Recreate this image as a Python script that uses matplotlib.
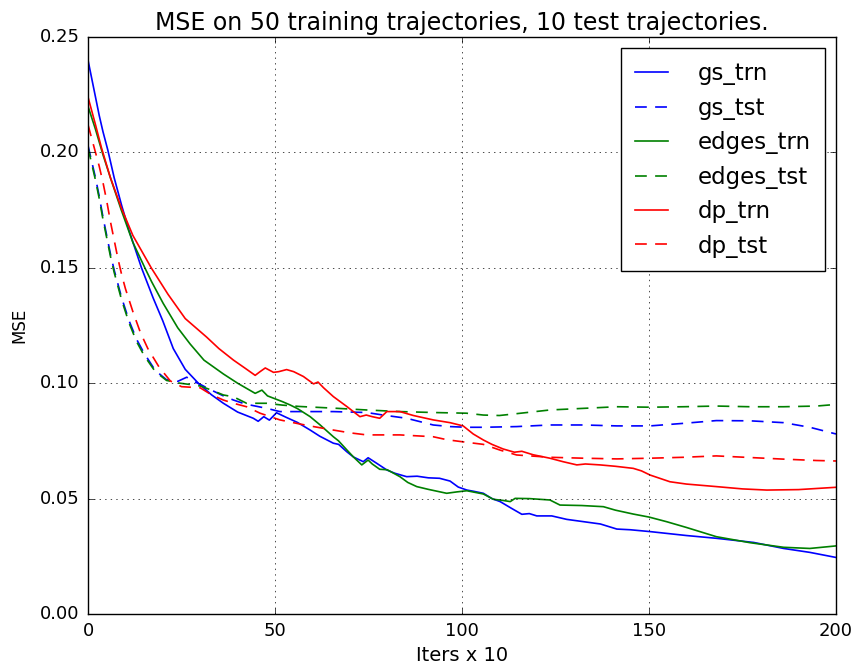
import matplotlib
matplotlib.use("Agg")
import matplotlib.pyplot as plt

# MSE curves, x in units of 10 iterations
gs_trn_x = [0, 1, 2, 3, 4, 5.3, 7, 9, 11, 14.3, 17.4, 20, 22.8, 26, 29.5, 33, 36.2, 40, 44.2, 45.5,
            47, 48.5, 50.4, 53, 56, 59.4, 62, 65.6, 67, 69.2, 71, 73.6, 74.9, 77, 79.9, 82, 85.2,
            88, 91, 94, 96.8, 99, 101.3, 103, 105.7, 108, 110.2, 113, 116, 118, 120, 124, 128,
            132.5, 137, 141.4, 145, 150.3, 160, 168, 178, 186, 193, 200]
gs_trn_y = [0.240, 0.232, 0.224, 0.216, 0.209, 0.201, 0.189, 0.177, 0.166, 0.150, 0.137, 0.127,
            0.1150, 0.106, 0.100, 0.095, 0.0913, 0.0875, 0.0848, 0.0835, 0.0855, 0.084, 0.0872,
            0.0852, 0.083, 0.0797, 0.077, 0.074, 0.0735, 0.0703, 0.068, 0.066, 0.0677, 0.0655,
            0.0624, 0.061, 0.0595, 0.0597, 0.059, 0.0588, 0.0576, 0.055, 0.0537, 0.0532, 0.0523,
            0.050, 0.0487, 0.046, 0.0432, 0.0435, 0.0425, 0.0425, 0.041, 0.040, 0.039, 0.0368,
            0.0365, 0.0357, 0.034, 0.0328, 0.031, 0.0284, 0.0267, 0.0245]

gs_tst_x = [0, 1, 2, 3, 4, 5, 6, 7, 8, 9, 11, 13, 15, 18, 21, 24, 26.4, 28, 30, 33, 36.2, 38.9,
            42, 47.8, 51.3, 56.7, 65.6, 74.5, 78.9, 85.2, 92.3, 96.8, 101.2, 105.7, 114.6, 123.5,
            132.5, 141.4, 150.3, 159.2, 168, 177, 186, 193, 200]
gs_tst_y = [0.203, 0.196, 0.189, 0.181, 0.172, 0.164, 0.156, 0.149, 0.143, 0.137, 0.127, 0.119,
            0.113, 0.1055, 0.1015, 0.1008, 0.1026, 0.101, 0.0995, 0.097, 0.0945, 0.0927, 0.091,
            0.0891, 0.0877, 0.0877, 0.0877, 0.0873, 0.0862, 0.0848, 0.0819, 0.0812, 0.0809,
            0.0809, 0.0812, 0.0819, 0.0819, 0.0815, 0.0815, 0.0826, 0.0838, 0.0837, 0.0829,
            0.0809, 0.078]

edges_trn_x = [0, 2, 4, 6, 8.9, 12, 15.2, 17, 20.1, 24, 27.3, 31, 36.2, 40, 44.7, 46.5, 48, 50.4,
               52, 54, 56, 59.4, 62, 65.6, 67, 69.2, 71, 73.2, 74.9, 76, 78, 80, 83.4, 85.5,
               87.9, 91, 95.9, 98.6, 101.3, 105.7, 108.4, 111, 112.9, 114.2, 118, 123.5, 126.2,
               132, 137.8, 141, 145.8, 150, 154.7, 160, 168, 177, 186, 193, 200]
edges_trn_y = [0.220, 0.210, 0.199, 0.189, 0.175, 0.161, 0.150, 0.144, 0.1346, 0.124, 0.117,
               0.110, 0.104, 0.100, 0.0956, 0.097, 0.0945, 0.0930, 0.092, 0.0906, 0.089, 0.0855,
               0.082, 0.0768, 0.075, 0.0711, 0.068, 0.0646, 0.0667, 0.065, 0.0627, 0.0625,
               0.0595, 0.057, 0.0552, 0.054, 0.0523, 0.0529, 0.0534, 0.052, 0.0497, 0.0492,
               0.0487, 0.0501, 0.050, 0.0494, 0.0472, 0.047, 0.0465, 0.045, 0.0433, 0.042, 0.040,
               0.0375, 0.0335, 0.0309, 0.0289, 0.0284, 0.0295]

edges_tst_x = [0, 1, 2, 3, 4, 5, 6, 7, 8, 9, 11, 13, 15, 18, 21, 24.6, 27, 30, 33, 36.2, 38.9,
               42.4, 47.8, 52, 56.7, 65.6, 74.5, 83.4, 92.3, 101.2, 105.7, 110, 114.6, 123.5,
               132.5, 141.4, 150.3, 159.2, 168, 177, 186, 194.8, 200]
edges_tst_y = [0.202, 0.195, 0.188, 0.180, 0.171, 0.163, 0.155, 0.148, 0.142, 0.136, 0.126,
               0.118, 0.112, 0.105, 0.1012, 0.100, 0.0995, 0.0988, 0.097, 0.0949, 0.0941,
               0.0913, 0.0913, 0.0905, 0.0899, 0.0892, 0.0884, 0.0877, 0.0873, 0.087, 0.0862,
               0.086, 0.0868, 0.0884, 0.0891, 0.0898, 0.0896, 0.0898, 0.0901, 0.0898, 0.0898,
               0.0901, 0.0908]

dp_trn_x = [0, 2, 3.6, 6, 8.9, 12, 16.9, 21.4, 26, 31.7, 35, 38.9, 42, 44.7, 46, 47.4, 49.6, 51,
            53.1, 55, 57.6, 60.3, 61.5, 63, 65.6, 69.2, 72.7, 74.4, 76, 78, 79.9, 83.4, 87, 92.3,
            96.8, 100.3, 103, 105.7, 108, 111, 114, 116, 119, 123.5, 127, 130.7, 133, 136.9,
            141, 145.8, 148, 150.3, 155.6, 160, 168, 175, 181.5, 190, 200]
dp_trn_y = [0.224, 0.212, 0.202, 0.189, 0.176, 0.164, 0.150, 0.1385, 0.128, 0.120, 0.115, 0.110,
            0.1065, 0.1034, 0.105, 0.1066, 0.1047, 0.105, 0.1059, 0.105, 0.1029, 0.0997, 0.1005,
            0.098, 0.0942, 0.0899, 0.0855, 0.0862, 0.0855, 0.0848, 0.0877, 0.0877, 0.086,
            0.0841, 0.0829, 0.0815, 0.078, 0.0754, 0.0735, 0.0715, 0.0701, 0.0705, 0.069,
            0.0675, 0.066, 0.0646, 0.065, 0.0646, 0.064, 0.0631, 0.062, 0.0602, 0.0573, 0.0563,
            0.0552, 0.0542, 0.0537, 0.0539, 0.0549]

dp_tst_x = [0, 1, 2, 3, 4, 5, 6, 7, 8, 9, 10, 12, 14, 16, 19, 22, 25, 30, 33, 36.2, 38.9, 42.4,
            46, 51.3, 56.7, 61, 65.6, 70, 74.5, 83.4, 92.3, 96, 101.2, 105.7, 110.2, 114.6,
            123.5, 132.5, 141.4, 150.3, 159.2, 168, 177, 186, 194.8, 200]
dp_tst_y = [0.212, 0.206, 0.200, 0.194, 0.187, 0.179, 0.170, 0.162, 0.154, 0.147, 0.141, 0.131,
            0.122, 0.115, 0.107, 0.101, 0.0985, 0.098, 0.095, 0.0927, 0.0913, 0.0898, 0.087,
            0.0841, 0.0823, 0.081, 0.0797, 0.0785, 0.0776, 0.0776, 0.0768, 0.0755, 0.0744,
            0.0735, 0.071, 0.0689, 0.0679, 0.0675, 0.0672, 0.0675, 0.0679, 0.0685, 0.0678,
            0.0671, 0.0665, 0.0663]

plt.style.use('classic')
plt.rcParams['figure.facecolor'] = 'white'
plt.rcParams['savefig.facecolor'] = 'white'
plt.rcParams['lines.scale_dashes'] = False
plt.rcParams['legend.numpoints'] = 1

fig = plt.figure(figsize=(8.55, 6.66), dpi=100)
ax = fig.add_axes([88 / 855, 1 - 614 / 666, 748 / 855, 577 / 666])

lw = 1.2
dash = (8.5, 6)
ax.plot(gs_trn_x, gs_trn_y, 'b-', lw=lw, label='gs_trn')
ax.plot(gs_tst_x, gs_tst_y, 'b--', lw=lw, dashes=dash, label='gs_tst')
ax.plot(edges_trn_x, edges_trn_y, 'g-', lw=lw, label='edges_trn')
ax.plot(edges_tst_x, edges_tst_y, 'g--', lw=lw, dashes=dash, label='edges_tst')
ax.plot(dp_trn_x, dp_trn_y, 'r-', lw=lw, label='dp_trn')
ax.plot(dp_tst_x, dp_tst_y, 'r--', lw=lw, dashes=dash, label='dp_tst')

ax.set_xlim(0, 200)
ax.set_ylim(0, 0.25)
ax.set_xticks([0, 50, 100, 150, 200])
ax.set_yticks([0.0, 0.05, 0.10, 0.15, 0.20, 0.25])
ax.set_yticklabels(['0.00', '0.05', '0.10', '0.15', '0.20', '0.25'])
ax.tick_params(labelsize=13, pad=6)
ax.grid(True)

ax.set_title('MSE on 50 training trajectories, 10 test trajectories.', fontsize=17)
ax.set_xlabel('Iters x 10', fontsize=14, labelpad=4)
ax.set_ylabel('MSE', fontsize=12, labelpad=8)

ax.legend(loc='upper right', fontsize=16.5, labelspacing=0.5, handlelength=1.45,
          handletextpad=1.3, borderpad=0.6, borderaxespad=0.5)

fig.savefig('out.png', dpi=100)
